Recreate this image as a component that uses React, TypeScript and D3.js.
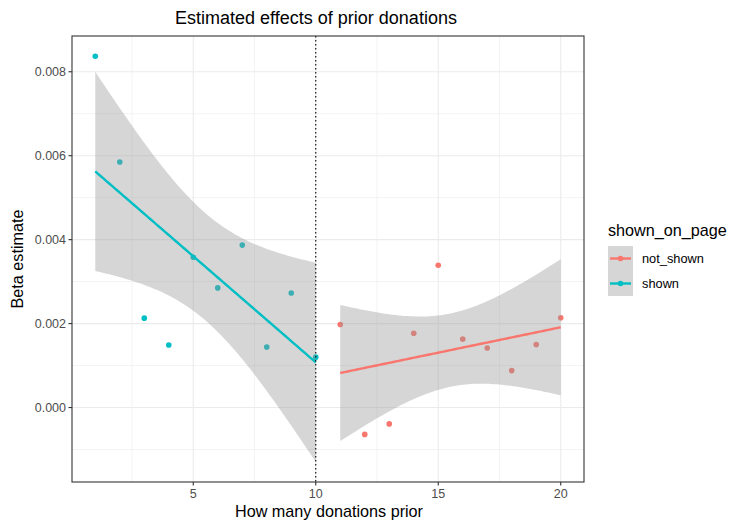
import React from "react";
import * as d3 from "d3";

const shownX = [1, 2, 3, 4, 5, 6, 7, 8, 9, 10];
const shownY = [0.00837, 0.00585, 0.00213, 0.00149, 0.00358, 0.00285, 0.00387, 0.00144, 0.00273, 0.0012];
const notShownX = [11, 12, 13, 14, 15, 16, 17, 18, 19, 20];
const notShownY = [0.00198, -0.00064, -0.00039, 0.00177, 0.00339, 0.00163, 0.00142, 0.00088, 0.0015, 0.00214];
const groups = ["not_shown", "shown"];
const colors = ["#F8766D", "#00BFC4"];
const xTicks = [5, 10, 15, 20];
const yTicks = [0, 0.002, 0.004, 0.006, 0.008];
const cutoff = 10;

// t quantile (0.975) for 8 degrees of freedom
const T_975 = 2.306;

function lmFit(xs: number[], ys: number[]) {
  const n = xs.length;
  const mx = d3.mean(xs)!;
  const my = d3.mean(ys)!;
  const sxx = d3.sum(xs, (x) => (x - mx) ** 2);
  const sxy = d3.sum(xs.map((x, i) => (x - mx) * ys[i]));
  const b = sxy / sxx;
  const a = my - b * mx;
  const rss = d3.sum(xs.map((x, i) => (ys[i] - (a + b * x)) ** 2));
  const s = Math.sqrt(rss / (n - 2));
  const [lo, hi] = d3.extent(xs) as [number, number];
  return d3.range(80).map((i) => {
    const x = lo + ((hi - lo) * i) / 79;
    const fit = a + b * x;
    const se = s * Math.sqrt(1 / n + (x - mx) ** 2 / sxx);
    return { x, fit, lo: fit - T_975 * se, hi: fit + T_975 * se };
  });
}

export default function App() {
  const W = 745, H = 525;
  const m = { left: 72, right: 584, top: 36, bottom: 482 };
  const x = d3.scaleLinear().domain([0.05, 20.95]).range([m.left, m.right]);
  const y = d3.scaleLinear().domain([-0.001774, 0.008852]).range([m.bottom, m.top]);

  const series = [
    { name: groups[0], color: colors[0], xs: notShownX, ys: notShownY },
    { name: groups[1], color: colors[1], xs: shownX, ys: shownY },
  ].map((s) => ({ ...s, fit: lmFit(s.xs, s.ys) }));

  const area = d3.area<any>().x((d) => x(d.x)).y0((d) => y(d.lo)).y1((d) => y(d.hi));
  const line = d3.line<any>().x((d) => x(d.x)).y((d) => y(d.fit));

  const xMinor = [2.5, 7.5, 12.5, 17.5];
  const yMinor = [-0.001, 0.001, 0.003, 0.005, 0.007];
  const font = "Liberation Sans, Arial, sans-serif";

  return (
    <svg width={W} height={H} style={{ position: "absolute", left: 0, top: 0 }} fontFamily={font}>
      <rect width={W} height={H} fill="#fff" />
      <defs>
        <clipPath id="panel">
          <rect x={m.left} y={m.top} width={m.right - m.left} height={m.bottom - m.top} />
        </clipPath>
      </defs>
      <g stroke="#EBEBEB">
        {xMinor.map((v) => (
          <line key={"xm" + v} x1={x(v)} x2={x(v)} y1={m.top} y2={m.bottom} strokeWidth={0.6} />
        ))}
        {yMinor.map((v) => (
          <line key={"ym" + v} y1={y(v)} y2={y(v)} x1={m.left} x2={m.right} strokeWidth={0.6} />
        ))}
        {xTicks.map((v) => (
          <line key={"x" + v} x1={x(v)} x2={x(v)} y1={m.top} y2={m.bottom} strokeWidth={1.1} />
        ))}
        {yTicks.map((v) => (
          <line key={"y" + v} y1={y(v)} y2={y(v)} x1={m.left} x2={m.right} strokeWidth={1.1} />
        ))}
      </g>
      <g clipPath="url(#panel)">
        {series.map((s) =>
          s.xs.map((xv, i) => (
            <circle key={s.name + i} cx={x(xv)} cy={y(s.ys[i])} r={2.8} fill={s.color} />
          ))
        )}
        {series.map((s) => (
          <path key={s.name + "ci"} d={area(s.fit)!} fill="#999999" fillOpacity={0.4} />
        ))}
        {series.map((s) => (
          <path key={s.name + "ln"} d={line(s.fit)!} fill="none" stroke={s.color} strokeWidth={2.4} />
        ))}
        <line x1={x(cutoff)} x2={x(cutoff)} y1={m.top} y2={m.bottom} stroke="#000" strokeWidth={1.1} strokeDasharray="1.5,2.5" />
      </g>
      <rect x={m.left} y={m.top} width={m.right - m.left} height={m.bottom - m.top} fill="none" stroke="#333" strokeWidth={1.1} />
      {xTicks.map((v) => (
        <g key={"xt" + v}>
          <line x1={x(v)} x2={x(v)} y1={m.bottom} y2={m.bottom + 3.5} stroke="#333" strokeWidth={1.1} />
          <text x={x(v)} y={m.bottom + 16} textAnchor="middle" fontSize={12.5} fill="#4D4D4D">{v}</text>
        </g>
      ))}
      {yTicks.map((v) => (
        <g key={"yt" + v}>
          <line x1={m.left - 3.5} x2={m.left} y1={y(v)} y2={y(v)} stroke="#333" strokeWidth={1.1} />
          <text x={m.left - 6} y={y(v) + 4.3} textAnchor="end" fontSize={12.5} fill="#4D4D4D">{d3.format(".3f")(v)}</text>
        </g>
      ))}
      <text x={316} y={24} textAnchor="middle" fontSize={18} fill="#000">Estimated effects of prior donations</text>
      <text x={329} y={517} textAnchor="middle" fontSize={16.2} fill="#000">How many donations prior</text>
      <text transform={`translate(23,${(m.top + m.bottom) / 2}) rotate(-90)`} textAnchor="middle" fontSize={16.2} fill="#000">Beta estimate</text>
      <g transform="translate(608,0)">
        <text x={0} y={236} fontSize={16.2} fill="#000">shown_on_page</text>
        {series.map((s, i) => (
          <g key={s.name + "lg"} transform={`translate(0,${246 + i * 25})`}>
            <rect x={0} y={0} width={25} height={25} fill="#999999" fillOpacity={0.4} />
            <line x1={2} x2={23} y1={12.5} y2={12.5} stroke={s.color} strokeWidth={2.4} />
            <circle cx={12.5} cy={12.5} r={2.8} fill={s.color} />
            <text x={34} y={17} fontSize={12.8} fill="#000">{s.name}</text>
          </g>
        ))}
      </g>
    </svg>
  );
}
